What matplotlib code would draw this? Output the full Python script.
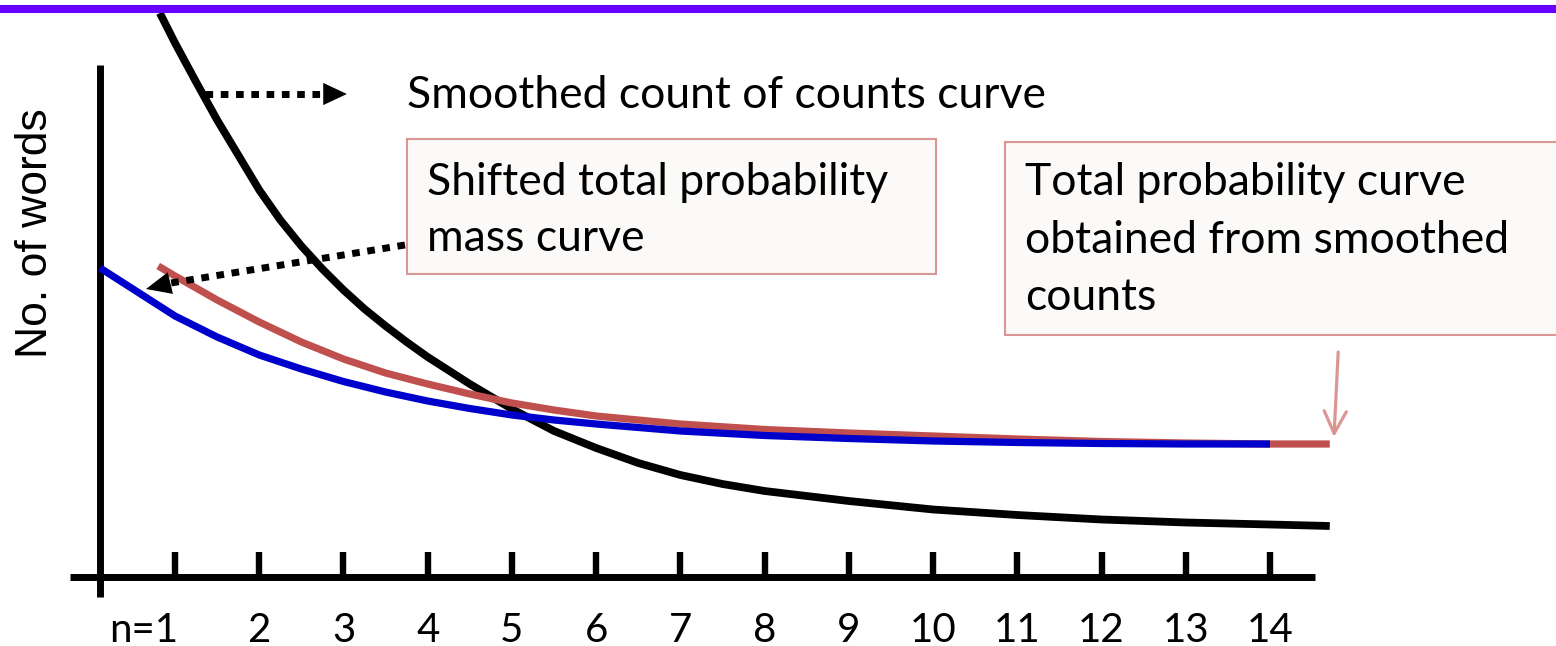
import numpy as np
import matplotlib.pyplot as plt
from matplotlib.patches import Rectangle, FancyArrowPatch

# n axis ticks
ticks = list(range(1, 15))
tick_labels = ['n=1'] + [str(i) for i in range(2, 15)]

# smoothed count of counts curve (black)
n_black = [0.82, 1.0, 1.25, 1.5, 1.75, 2.0, 2.25, 2.5, 2.75, 3.0, 3.25, 3.5, 3.75, 4.0,
           4.5, 5.0, 5.5, 6.0, 6.5, 7.0, 7.5, 8.0, 9.0, 10.0, 11.0, 12.0, 13.0, 14.0, 14.71]
y_black = [56.4, 53.4, 49.5, 45.7, 42.2, 38.7, 35.7, 33.1, 30.8, 28.7, 26.8, 25.1, 23.5, 22.0,
           19.3, 16.8, 14.6, 12.9, 11.4, 10.2, 9.3, 8.6, 7.6, 6.75, 6.2, 5.75, 5.45, 5.25, 5.1]

# total probability curve obtained from smoothed counts (red)
n_red = [0.80, 1.0, 1.25, 1.5, 1.75, 2.0, 2.5, 3.0, 3.5, 4.0, 4.5, 5.0, 5.5, 6.0,
         7.0, 8.0, 9.0, 10.0, 11.0, 12.0, 13.0, 14.0, 14.71]
y_red = [31.1, 30.1, 28.9, 27.7, 26.6, 25.5, 23.5, 21.8, 20.4, 19.3, 18.3, 17.4, 16.7, 16.1,
         15.3, 14.75, 14.4, 14.1, 13.8, 13.55, 13.4, 13.3, 13.3]

# shifted total probability mass curve (blue)
n_blue = [0.11, 0.5, 1.0, 1.5, 2.0, 2.5, 3.0, 3.5, 4.0, 4.5, 5.0, 5.5, 6.0,
          7.0, 8.0, 9.0, 10.0, 11.0, 12.0, 13.0, 14.0]
y_blue = [30.9, 28.8, 26.1, 24.0, 22.2, 20.8, 19.55, 18.5, 17.6, 16.85, 16.2, 15.7, 15.3,
          14.6, 14.15, 13.85, 13.6, 13.45, 13.35, 13.3, 13.3]

RED = '#C0504D'
BLUE = '#0000CC'
PINK = '#D99694'
TXT = 'Lato'

fig = plt.figure(figsize=(15.56, 6.46), dpi=100)
ax = fig.add_axes([0, 0, 1, 1])
ax.set_xlim(-1.078, 17.396)
ax.set_ylim(-6.9, 57.7)
ax.axis('off')

# purple rule on top
fig.add_artist(plt.Line2D([0, 1], [0.986, 0.986], transform=fig.transFigure,
                          color='#6600FF', lw=5.8, solid_capstyle='butt'))

# hand drawn axes
ax.plot([0.109, 0.109], [-2.0, 51.2], color='k', lw=5.0, solid_capstyle='butt')
ax.plot([-0.247, 14.53], [0, 0], color='k', lw=5.0, solid_capstyle='butt')
for t in ticks:
    ax.plot([t, t], [0, 2.5], color='k', lw=4.6, solid_capstyle='butt')
for t, lab in zip(ticks, tick_labels):
    if lab == 'n=1':
        ax.text(t + 0.04, -5.3, lab, ha='right', va='center', fontsize=29, family=TXT)
    else:
        ax.text(t, -5.3, lab, ha='center', va='center', fontsize=29, family=TXT)

ax.text(-0.66, 34.4, 'No. of words', rotation=90, ha='center', va='center',
        fontsize=32, family='Liberation Sans')

# curves
ax.plot(n_black, y_black, color='k', lw=5.6, solid_capstyle='butt', solid_joinstyle='round', zorder=3)
ax.plot(n_red, y_red, color=RED, lw=5.2, solid_capstyle='butt', solid_joinstyle='round', zorder=4)
ax.plot(n_blue, y_blue, color=BLUE, lw=5.2, solid_capstyle='butt', solid_joinstyle='round', zorder=5)

# dotted arrow to smoothed count label
ax.plot([1.36, 2.76], [48.3, 48.3], color='k', lw=5.0, linestyle=(0, (1.1, 1.1)), zorder=6)
ax.add_patch(FancyArrowPatch((2.76, 48.3), (3.04, 48.3), arrowstyle='-|>,head_length=17,head_width=8',
                             mutation_scale=1, color='k', lw=0, shrinkA=0, shrinkB=0, zorder=6))
ax.text(3.754, 48.2, 'Smoothed count of counts curve', ha='left', va='center',
        fontsize=32, family=TXT)

# shifted mass box
ax.add_patch(Rectangle((3.754, 30.3), 10.035 - 3.754, 43.8 - 30.3, facecolor='#FBFAF8',
                       edgecolor=PINK, lw=1.5, zorder=7))
ax.text(3.99, 39.5, 'Shifted total probability', ha='left', va='center', fontsize=32, family=TXT, zorder=8)
ax.text(3.99, 33.9, 'mass curve', ha='left', va='center', fontsize=32, family=TXT, zorder=8)
ax.plot([3.73, 0.95], [33.2, 29.4], color='k', lw=5.0, linestyle=(0, (1.1, 1.1)), zorder=6)
ax.add_patch(FancyArrowPatch((0.95, 29.4), (0.656, 28.8), arrowstyle='-|>,head_length=18,head_width=8',
                             mutation_scale=1, color='k', lw=0, shrinkA=0, shrinkB=0, zorder=6))

# total probability box
ax.add_patch(Rectangle((10.854, 24.2), 8.0, 43.5 - 24.2, facecolor='#FBFAF8',
                       edgecolor=PINK, lw=1.5, zorder=7))
ax.text(11.09, 39.5, 'Total probability curve', ha='left', va='center', fontsize=32, family=TXT, zorder=8)
ax.text(11.09, 33.7, 'obtained from smoothed', ha='left', va='center', fontsize=32, family=TXT, zorder=8)
ax.text(11.09, 28.0, 'counts', ha='left', va='center', fontsize=32, family=TXT, zorder=8)
ax.add_patch(FancyArrowPatch((14.81, 22.5), (14.76, 14.0), arrowstyle='->,head_length=16,head_width=8',
                             mutation_scale=1, color=PINK, lw=2.3, shrinkA=0, shrinkB=0, zorder=6))

plt.savefig('out.png', dpi=100)
